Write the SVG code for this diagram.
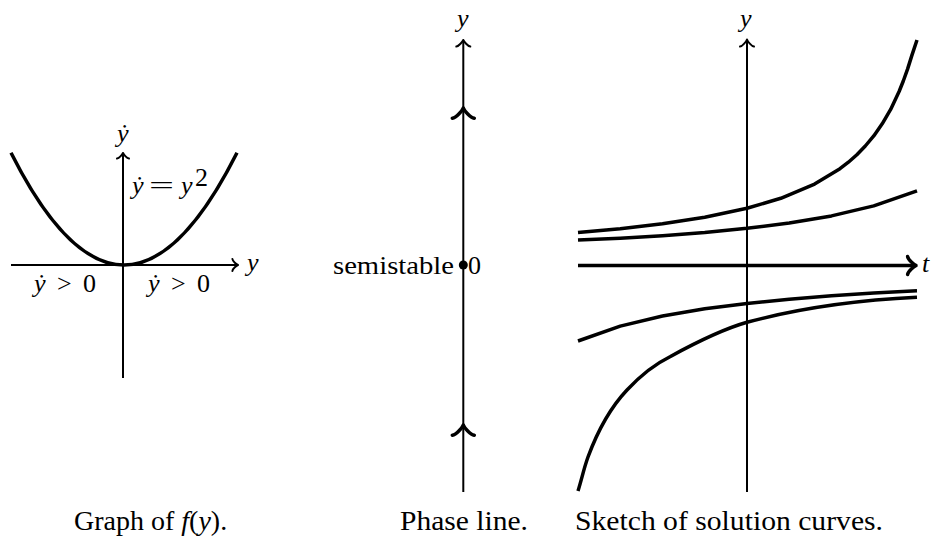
<svg xmlns="http://www.w3.org/2000/svg" width="933" height="544" viewBox="0 0 933 544">
<style>
.ax{fill:none;stroke:#000;stroke-width:2}
.thick{fill:none;stroke:#000;stroke-width:3.5;stroke-linecap:butt;stroke-linejoin:round}
.tip{fill:none;stroke:#000;stroke-linecap:round;stroke-linejoin:round}
.m{font-family:"Liberation Serif","Times New Roman",serif;font-size:26px;fill:#000}
.mi{font-family:"Liberation Serif","Times New Roman",serif;font-style:italic;font-size:26px;fill:#000}
.cap{font-family:"Liberation Serif","Times New Roman",serif;font-size:28px;fill:#000}
</style>
<rect width="933" height="544" fill="#fff"/>

<g id="graph-panel">
  <line class="ax" x1="123" y1="378" x2="123" y2="154"/>
  <line class="ax" x1="11" y1="265" x2="237" y2="265"/>
  <path class="tip" stroke-width="2" d="M117,158.6 C119.3,158.4 122.5,154.2 123,153 M129,158.6 C126.7,158.4 123.5,154.2 123,153"/>
  <path class="tip" stroke-width="2" d="M232.4,259 C232.6,261.3 236.8,264.5 238,265 M232.4,271 C232.6,268.7 236.8,265.5 238,265"/>
  <path class="thick" d="M11,152.7 Q124,377.3 237,152.7"/>
  <text class="mi" x="117" y="142">ẏ</text>
  <text class="mi" x="247" y="271">y</text>
  <text class="mi" x="132" y="194">ẏ</text>
  <text class="m" x="149" y="194" textLength="25" lengthAdjust="spacingAndGlyphs">=</text>
  <text class="mi" x="181" y="194">y</text>
  <text class="m" x="195" y="186" font-size="18">2</text>
  <text class="mi" x="34" y="292">ẏ</text>
  <text class="m" x="57" y="292">&gt;</text>
  <text class="m" x="83" y="292">0</text>
  <text class="mi" x="148" y="292">ẏ</text>
  <text class="m" x="171" y="292">&gt;</text>
  <text class="m" x="197" y="292">0</text>
</g>

<g id="phase-line">
  <line class="ax" x1="463.3" y1="492" x2="463.3" y2="41"/>
  <path class="tip" stroke-width="2" d="M456.3,46.6 C458.7,46.3 462.7,41.4 463.3,40 M470.3,46.6 C467.9,46.3 463.9,41.4 463.3,40"/>
  <path class="tip" stroke-width="3.5" d="M452.3,118.3 C456.4,117.6 462.6,110.1 463.3,108 M474.3,118.3 C470.2,117.6 464,110.1 463.3,108"/>
  <path class="tip" stroke-width="3.5" d="M452.3,435.3 C456.4,434.6 462.6,427.1 463.3,425 M474.3,435.3 C470.2,434.6 464,427.1 463.3,425"/>
  <circle cx="463.3" cy="265" r="4.5" fill="#000"/>
  <text class="mi" x="457" y="27">y</text>
  <text class="m" x="454" y="274" text-anchor="end" textLength="121" lengthAdjust="spacingAndGlyphs">semistable</text>
  <text class="m" x="468" y="274">0</text>
</g>

<g id="solution-curves">
  <line class="ax" x1="747" y1="492" x2="747" y2="41"/>
  <path class="tip" stroke-width="2" d="M740,46.6 C742.4,46.3 746.4,41.4 747,39.5 M754,46.6 C751.6,46.3 747.6,41.4 747,39.5"/>
  <line class="thick" x1="578" y1="265.5" x2="914" y2="265.5"/>
  <path class="tip" stroke-width="3.5" d="M907.6,256.5 C908.1,259.9 914.3,264.9 916,265.5 M907.6,274.5 C908.1,271.1 914.3,266.1 916,265.5"/>
  <text class="mi" x="740" y="27">y</text>
  <text class="mi" x="922" y="272">t</text>
  <path class="thick" d="M578,232.6 L620.25,228.7 L662.5,223.7 L704.75,217.2 L747,208.3 L780.8,198.3 L814.6,184.1 L839.95,168.7 L848.4,162.2 L856.85,154.7 L865.3,146 L873.75,135.9 L882.2,123.8 L890.65,109.4 L899.1,91.5 L903.3,81 L907.55,69.1 L911.8,55.6 L917,40"/>
  <path class="thick" d="M578,240 L620.25,238.3 L662.5,235.7 L704.75,232.5 L747,228.3 L789.25,223 L831.5,215.9 L873.75,205.9 L917,190.8"/>
  <path class="thick" d="M578,341 L620.25,326.1 L662.5,316.05 L704.75,308.85 L747,303.4 L789.25,299.2 L831.5,295.8 L873.75,293 L917,290.7"/>
  <path class="thick" d="M578,491 C582,478 584,468 588,457 C598,430 610,408 627,390 C640,376 655,364 670,356.7 C695,343 720,330 747,322.3 C800,308 860,300 917,297.3"/>
</g>

<g id="captions">
  <text class="cap" x="74" y="530">Graph of <tspan font-style="italic">f</tspan>(<tspan font-style="italic">y</tspan>).</text>
  <text class="cap" x="400" y="530" textLength="128" lengthAdjust="spacingAndGlyphs">Phase line.</text>
  <text class="cap" x="575" y="530" textLength="308" lengthAdjust="spacingAndGlyphs">Sketch of solution curves.</text>
</g>
</svg>
